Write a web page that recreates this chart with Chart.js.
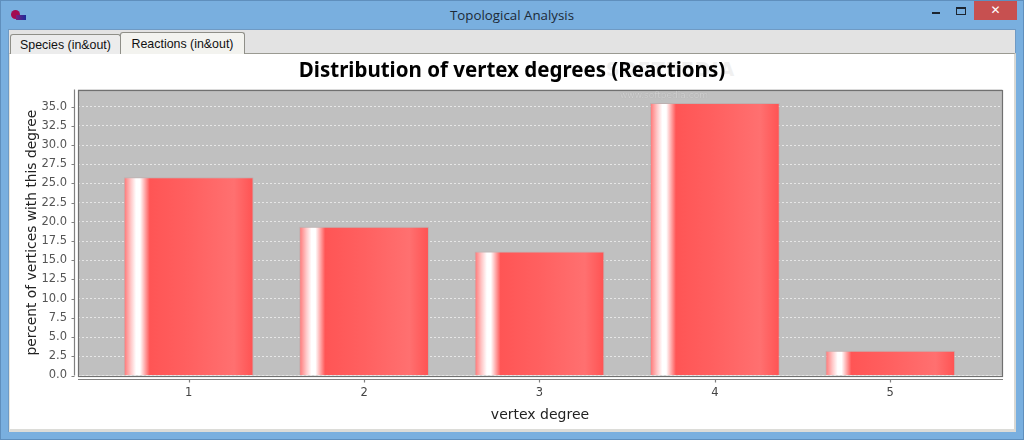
<!DOCTYPE html>
<html><head><meta charset="utf-8">
<style>
html,body{margin:0;padding:0;width:1024px;height:440px;overflow:hidden;background:#79afdf;font-family:"DejaVu Sans",sans-serif}
#frame{position:absolute;left:0;top:0;width:1022px;height:438px;border:1px solid #5f8fbd}
#wt{position:absolute;left:0;right:0;top:6px;text-align:center;font-size:13.3px;color:#1c2a38;font-family:"Open Sans","DejaVu Sans",sans-serif}
#icon1{position:absolute;left:11px;top:10px;width:9px;height:9px;border-radius:50%;background:#a30b52}
#icon2{position:absolute;left:16px;top:15px;width:10px;height:5px;background:linear-gradient(90deg,#7a2080,#1a2a9a)}
#min{position:absolute;left:932px;top:12px;width:8px;height:2px;background:#1c2530}
#max{position:absolute;left:956px;top:7px;width:8px;height:5px;border:1px solid #1c2530;border-top-width:2px}
#close{position:absolute;left:974px;top:1px;width:43px;height:19px;background:#c75050;color:#fff;text-align:center;font-size:12px;line-height:19px;font-weight:bold}
#pane{position:absolute;left:8px;top:29px;width:1008px;height:403px;background:#e3e3e3;border-top:1px solid #6f9ac4;border-left:1px solid #6f9ac4;border-right:1px solid #6f9ac4;box-sizing:border-box}
#content{position:absolute;left:9px;top:53px;width:1007px;height:379px;background:#fff;border-top:1px solid #9a9a92;border-left:1px solid #e6e6e0;border-right:2px solid #d8d8d4;border-bottom:3px solid #dcdcd8;box-sizing:border-box}
.tab{position:absolute;font-family:"Liberation Sans","DejaVu Sans",sans-serif;color:#111;border:1px solid #8f8f88;border-bottom:none;border-radius:3px 3px 0 0;box-sizing:border-box;text-align:center}
#t1{left:10px;top:34px;width:111px;height:20px;background:#ececec;line-height:21px;font-size:12.4px}
#t2{left:120px;top:32px;width:125px;height:22px;background:#f3f3ef;line-height:22px;font-size:12.4px}
#chartbox{position:absolute;left:12px;top:54px;width:1000px;height:376px}
#wm{position:absolute;left:620px;top:90px;font-size:9px;color:#d0d0d0;text-shadow:0 0 1px #a0a0a0}
#wm2{position:absolute;left:606px;top:58px;font-size:19px;font-weight:bold;letter-spacing:1px;color:#f0f0f0}
</style></head><body>
<div id="frame"></div>
<div id="wt">Topological Analysis</div>
<div id="icon1"></div><div id="icon2"></div>
<div id="min"></div><div id="max"></div><div id="close">✕</div>
<div id="pane"></div><div id="content"></div>
<div class="tab" id="t1">Species (in&amp;out)</div>
<div class="tab" id="t2">Reactions (in&amp;out)</div>
<div id="wm2">SOFTPEDIA</div>
<div id="chartbox"><canvas id="c" width="1000" height="376"></canvas></div>
<div id="wm">www.softpedia.com</div>
<script src="https://cdn.jsdelivr.net/npm/chart.js@4/dist/chart.umd.min.js"></script>
<script>
const categories=[1,2,3,4,5];
const percentValues=[25.8,19.35,16.13,35.48,3.23];
const yTickStep=2.5;
const titleText="Distribution of vertex degrees (Reactions)";
const xTitle="vertex degree";
const yTitle="percent of vertices with this degree";

const barPct=0.74;
function barFill(ctx){
  const ch=ctx.chart, xs=ch.scales.x;
  if(!xs||ctx.raw==null||ctx.type!=='data')return '#ff5555';
  const cx=xs.getPixelForValue(ctx.raw.x);
  const w=(xs.getPixelForValue(2)-xs.getPixelForValue(1))*barPct;
  if(!isFinite(cx)||!isFinite(w))return '#ff5555';
  const g=ch.ctx.createLinearGradient(cx-w/2,0,cx+w/2,0);
  g.addColorStop(0,'#ff7070');
  g.addColorStop(0.055,'#ffc8c8');
  g.addColorStop(0.095,'#ffffff');
  g.addColorStop(0.125,'#ffffff');
  g.addColorStop(0.2,'#ff5555');
  g.addColorStop(0.5,'#ff6060');
  g.addColorStop(0.85,'#ff7070');
  g.addColorStop(1,'#ff5252');
  return g;
}
const plotDecor={
  id:'plotDecor',
  beforeDraw(ch){
    const a=ch.chartArea,c=ch.ctx;
    c.save();c.fillStyle='#c0c0c0';c.fillRect(a.left,a.top,a.width,a.height);c.restore();
  },
  afterDraw(ch){
    const a=ch.chartArea,c=ch.ctx,xs=ch.scales.x,ys=ch.scales.y;
    c.save();
    c.strokeStyle='#707070';c.lineWidth=1.2;
    c.strokeRect(Math.round(a.left)+.5,Math.round(a.top)+.5,Math.round(a.width),Math.round(a.height));
    c.strokeStyle='#808080';c.lineWidth=1.2;
    c.beginPath();
    const ax=Math.round(a.left)-4+.5, ay=Math.round(a.bottom)+3+.5;
    c.moveTo(ax,a.top);c.lineTo(ax,a.bottom);
    ys.ticks.forEach((t,i)=>{const y=Math.round(ys.getPixelForTick(i))+.5;c.moveTo(ax-3,y);c.lineTo(ax,y);});
    c.moveTo(a.left,ay);c.lineTo(a.right+1,ay);
    xs.ticks.forEach((t,i)=>{const x=Math.round(xs.getPixelForTick(i))+.5;c.moveTo(x,ay);c.lineTo(x,ay+3);});
    c.stroke();
    c.restore();
  }
};
new Chart(document.getElementById('c'),{
  type:'bar',
  data:{datasets:[{data:categories.map((k,i)=>({x:k,y:percentValues[i]})),backgroundColor:barFill,borderWidth:1,borderColor:'rgba(190,170,170,0.7)',barPercentage:barPct,categoryPercentage:1}]},
  options:{
    responsive:false,animation:false,
    layout:{padding:0},
    plugins:{legend:{display:false},tooltip:{enabled:false},
      title:{display:true,text:titleText,color:'#000',font:{family:'"Noto Sans"',size:20.5,weight:'bold'},padding:{top:5,bottom:6}}},
    scales:{
      x:{type:'linear',offset:false,min:0.369,max:5.637,
        afterBuildTicks(s){s.ticks=categories.map(v=>({value:v}));},
        afterFit(s){s.height=54.5;},
        grid:{display:false,tickLength:7},border:{display:false},
        ticks:{color:'#444',font:{family:'"DejaVu Sans"',size:11.5},padding:4,maxRotation:0,callback:v=>String(v)},
        title:{display:true,text:xTitle,color:'#222',font:{family:'"DejaVu Sans"',size:14},padding:{top:6,bottom:6}}},
      y:{type:'linear',min:0,max:37.22,
        afterBuildTicks(s){const t=[];for(let i=0;i<=14;i++)t.push({value:i*yTickStep});s.ticks=t;},
        afterFit(s){s.width=66;},
        grid:{color:'rgba(255,255,255,0.6)',lineWidth:1,tickLength:8,tickColor:'rgba(0,0,0,0)'},
        border:{display:false,dash:[2,2]},
        ticks:{color:'#555',font:{family:'"DejaVu Sans"',size:11.5},padding:3,autoSkip:false,callback:v=>v.toFixed(1)},
        title:{display:true,text:yTitle,color:'#222',font:{family:'"DejaVu Sans"',size:13.8},padding:{top:12,bottom:1}}},
      rightGap:{type:'linear',position:'right',display:true,
        afterFit(s){s.width=10;},
        grid:{display:false},border:{display:false},ticks:{display:false}}
    }
  },
  plugins:[plotDecor]
});
</script>
</body></html>
